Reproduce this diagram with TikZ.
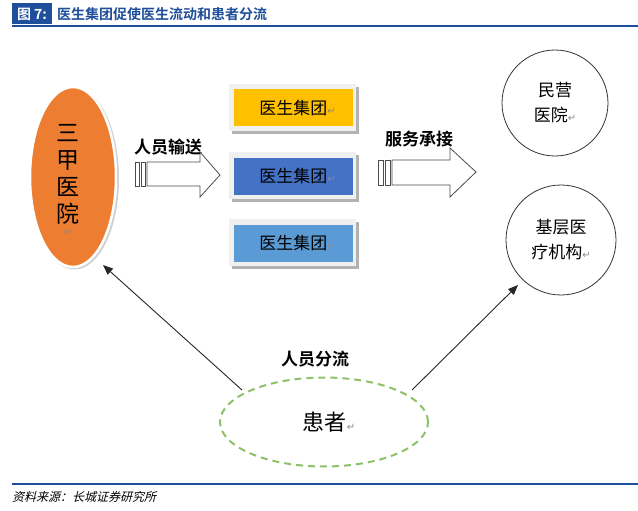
\documentclass[tikz,border=0pt]{standalone}
\usepackage{fontspec}
\newfontfamily\cjk{Noto Sans CJK SC}
\newfontfamily\cjkb{Noto Sans CJK SC Bold}
\newfontfamily\cjkit[FakeSlant=0.25]{Noto Sans CJK SC}
\newfontfamily\symf{DejaVu Sans}
\usetikzlibrary{shapes.geometric,arrows.meta}
\definecolor{titleblue}{HTML}{1F4E9A}
\definecolor{hosporange}{HTML}{ED7D31}
\definecolor{gold}{HTML}{FFC000}
\definecolor{midblue}{HTML}{4472C4}
\definecolor{lightblue}{HTML}{5B9BD5}
\definecolor{dashgreen}{HTML}{8CC168}
\definecolor{markgray}{HTML}{8A8A8A}
\newcommand{\pmark}{{\symf\fontsize{10}{10}\selectfont\color{markgray}↵}}
\tikzset{
  x=1pt, y=-1pt,
  groupbox/.style={draw=none, minimum width=119, minimum height=37, inner sep=0pt,
     font=\cjk\fontsize{17}{17}\selectfont},
  frame/.style={fill=white!94!black},
  shadowc/.style={fill=black!30},
  circ/.style={draw=black!80, circle, line width=0.8pt, minimum size=106, inner sep=0pt,
     align=center, font=\cjk\fontsize{17}{25}\selectfont},
  blockarrow/.style={draw=black!70, fill=white, line width=0.8pt},
  lbl/.style={font=\cjkb\fontsize{17}{17}\selectfont, inner sep=0pt},
  conn/.style={draw=black!85, line width=0.9pt, -{Triangle[length=10pt,width=8pt]}},
}
\begin{document}
\begin{tikzpicture}
\useasboundingbox (0,0) rectangle (638,511);
% title
\node[fill=titleblue, text=white, font=\cjkb\fontsize{14}{14}\selectfont, minimum width=40, minimum height=21, inner sep=0pt] (tag) at (32,14) {图 7:};
\node[anchor=west, text=titleblue, font=\cjkb\fontsize{14}{14}\selectfont, inner sep=0pt] (title) at (57,14) {医生集团促使医生流动和患者分流};
\draw[titleblue, line width=2pt] (12,26) -- (638,26);
% hospital ellipse
\fill[black!18] (74.5,178.5) ellipse [x radius=44.5, y radius=91];
\node[ellipse, fill=hosporange, draw=white, line width=2.5pt, minimum width=86, minimum height=180, inner sep=0pt] (hosp) at (73,177) {};
\node[font=\cjk\fontsize{23}{27}\selectfont, align=center, inner sep=0pt] (hosptext) at (68,180) {三\\甲\\医\\院\\[-14pt]\pmark};
% block arrow 1
\node[lbl, anchor=west] (l1) at (134,147) {人员输送};
\draw[blockarrow] (135,162) rectangle (139,186);
\draw[blockarrow] (141,162) rectangle (145,186);
\draw[blockarrow] (147,162) -- (200,162) -- (200,152) -- (220,175) -- (200,197) -- (200,186) -- (147,186) -- cycle;
% group boxes
\foreach \n/\y/\c in {g1/108/gold, g2/176/midblue, g3/243/lightblue}{
  \fill[shadowc] (232,\y-21) rectangle (359,\y+26);
  \fill[frame] (229,\y-24) rectangle (356,\y+23);
  \node[groupbox, fill=\c] (\n) at (293.5,\y) {\hspace{8pt}医生集团\pmark};
}
% block arrow 2
\node[lbl, anchor=west] (l2) at (385,139) {服务承接};
\draw[blockarrow] (378,160) rectangle (383,185);
\draw[blockarrow] (385,160) rectangle (390,185);
\draw[blockarrow] (392,160) -- (450,160) -- (450,148) -- (476,172) -- (450,197) -- (450,185) -- (392,185) -- cycle;
% circles
\node[circ] (priv) at (555,103) {民营\\医院\pmark};
\node[circ, minimum size=110] (base) at (561,240) {基层医\\疗机构\pmark};
% patient
\node[ellipse, draw=dashgreen, line width=2pt, dash pattern=on 7pt off 5pt, minimum width=208, minimum height=89, inner sep=0pt, font=\cjk\fontsize{22}{22}\selectfont] (pat) at (324,422) {\hspace{10pt}患者\pmark};
\node[lbl] (l3) at (315,359) {人员分流};
% connectors
\coordinate (c1s) at (242,390);
\coordinate (c1e) at (103,265);
\coordinate (c2s) at (412,390);
\coordinate (c2e) at (518,285);
\draw[conn] (c1s) -- (c1e);
\draw[conn] (c2s) -- (c2e);
% footer
\draw[titleblue, line width=1.5pt] (12,484) -- (638,484);
\node[anchor=west, font=\cjkit\fontsize{12}{12}\selectfont, inner sep=0pt] (src) at (12,497) {资料来源：长城证券研究所};
\end{tikzpicture}
\end{document}
